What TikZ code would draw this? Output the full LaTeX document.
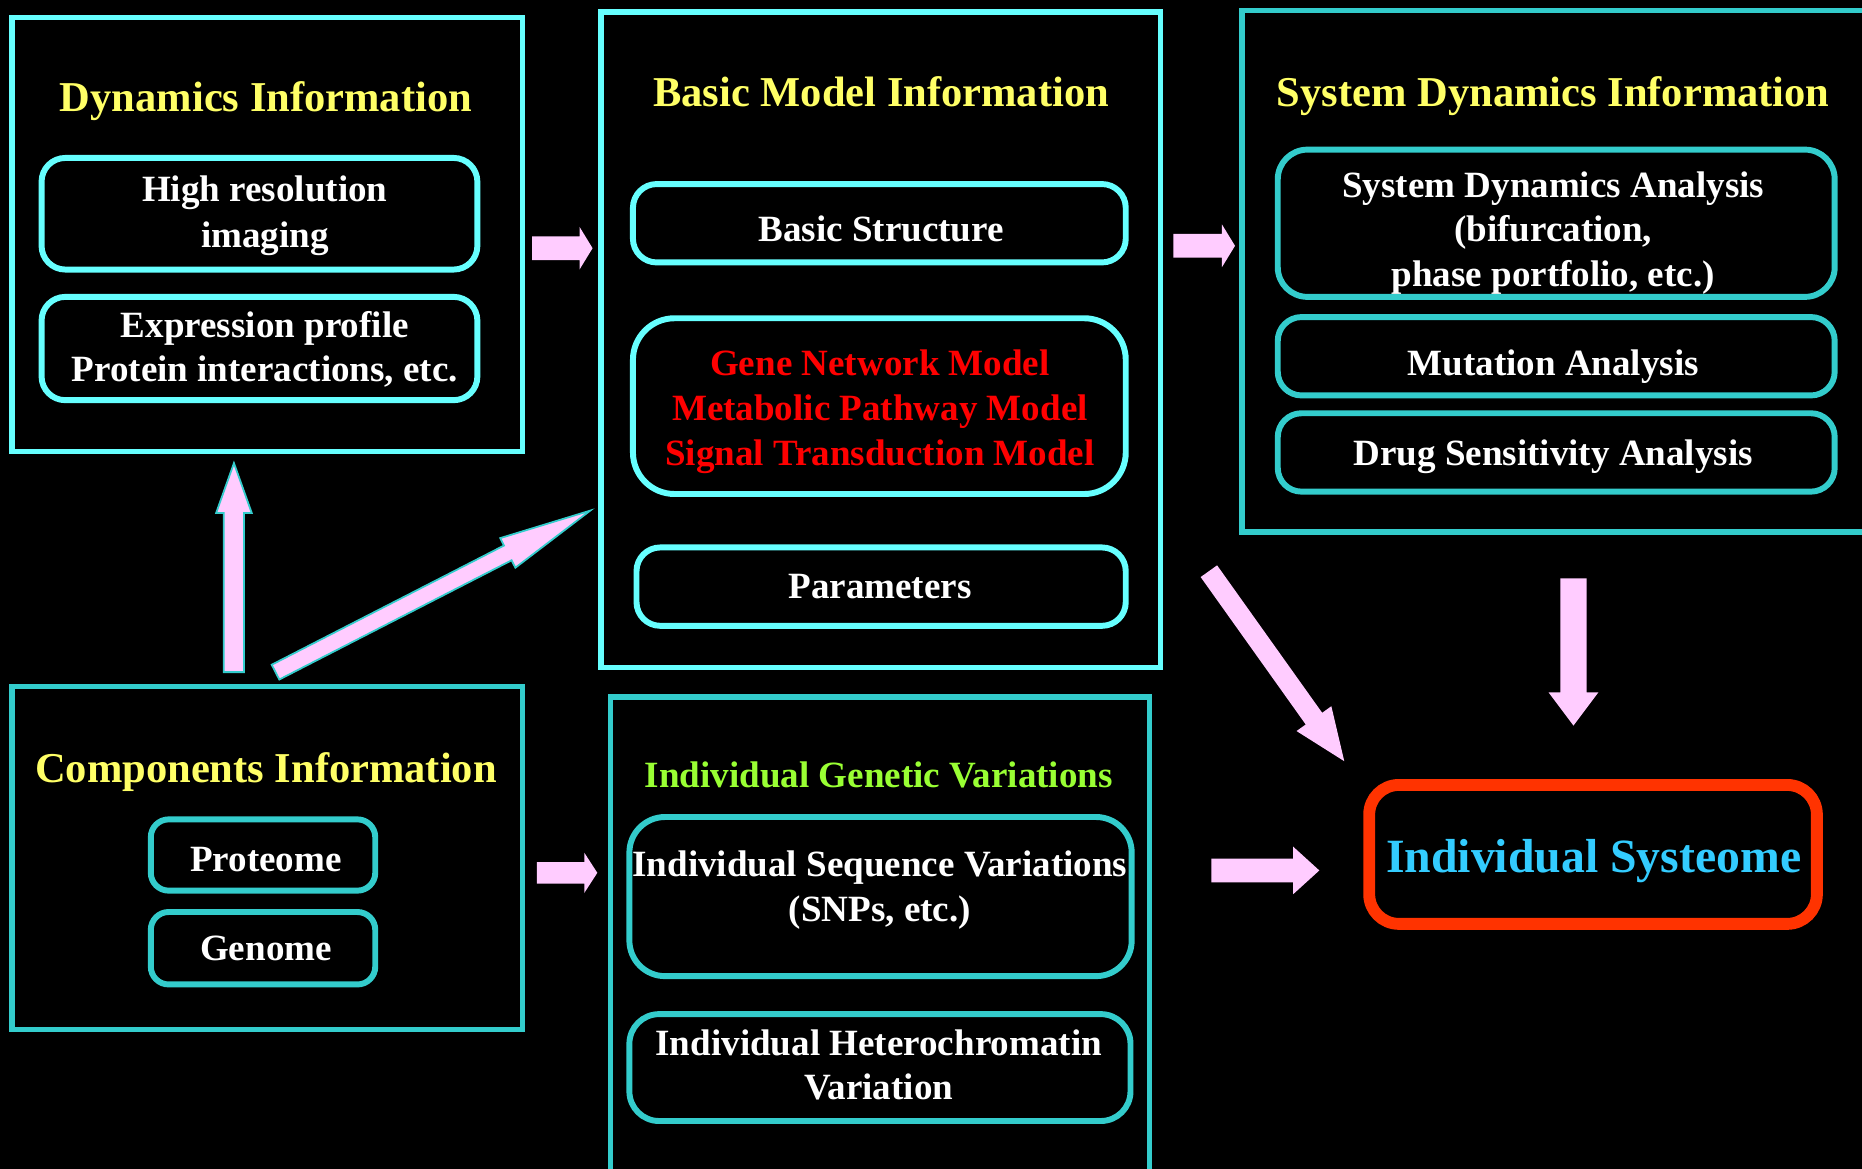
\documentclass[tikz,border=0pt]{standalone}
\usepackage{fontspec}
\setmainfont{Liberation Serif}
\usetikzlibrary{calc,fit}

\definecolor{cyanA}{HTML}{66FFFF}
\definecolor{cyanB}{HTML}{33CCCC}
\definecolor{titleyellow}{HTML}{FFFF66}
\definecolor{vargreen}{HTML}{99FF33}
\definecolor{arrowpink}{HTML}{FFCCFF}
\definecolor{sysred}{HTML}{FF3300}
\definecolor{sysblue}{HTML}{33CCFF}
\definecolor{modelred}{HTML}{FF0000}

% block arrow: [extra style]{from}{to}{shaft half width}{head half width}{head length}
\newcommand\blockarrow[6][]{%
  \coordinate (ba-h) at ($(#3)!#6!(#2)$);
  \fill[arrowpink,#1] ($(#2)!#4!90:(#3)$) -- ($(ba-h)!#4!90:(#3)$) -- ($(ba-h)!#5!90:(#3)$)
    -- (#3) -- ($(ba-h)!#5!-90:(#3)$) -- ($(ba-h)!#4!-90:(#3)$) -- ($(#2)!#4!-90:(#3)$) -- cycle;
}

\tikzset{
  outerA/.style={draw=cyanA, line width=4.5pt, rectangle, inner sep=0pt},
  outerB/.style={draw=cyanB, line width=4.5pt, rectangle, inner sep=0pt},
  innerA/.style={draw=cyanA, line width=5pt, rectangle, rounded corners=20pt, inner sep=0pt},
  innerB/.style={draw=cyanB, line width=5pt, rectangle, rounded corners=20pt, inner sep=0pt},
  title/.style={font=\fontsize{35.8}{43}\selectfont\bfseries, text=titleyellow, anchor=base, inner sep=0pt},
  body/.style={font=\fontsize{31.2}{37.5}\selectfont\bfseries, text=white, anchor=base, inner sep=0pt},
  outlined/.style={draw=cyanB, line width=1.5pt},
}

\begin{document}
\begin{tikzpicture}[x=1pt, y=-1pt]
\useasboundingbox (0,0) rectangle (1568,984.4);
\clip (0,0) rectangle (1568,984.4);
\fill[black] (0,0) rectangle (1568,984.4);

% ---- Dynamics Information ----
\node[outerA, fit={(10,15) (440,380)}] (dyn) {};
\node[title] (dynT) at (224,94) {Dynamics Information};
\node[innerA, fit={(35,133) (402,227)}] (hr) {};
\node[body] (hr1) at (223,170) {High resolution};
\node[body] (hr2) at (223,208) {imaging};
\node[innerA, fit={(35,250) (402,337)}] (ex) {};
\node[body] (ex1) at (223,284) {Expression profile};
\node[body] (ex2) at (223,321) {Protein interactions, etc.};

% ---- Basic Model Information ----
\node[outerA, fit={(506,10) (977,562)}] (bmi) {};
\node[title] (bmiT) at (742,90) {Basic Model Information};
\node[innerA, fit={(533,155) (948,221)}] (bs) {};
\node[body] (bs1) at (742,203) {Basic Structure};
\node[innerA, rounded corners=35pt, fit={(533,268) (948,416)}] (mod) {};
\node[body, text=modelred] (mod1) at (741,316) {Gene Network Model};
\node[body, text=modelred] (mod2) at (741,354) {Metabolic Pathway Model};
\node[body, text=modelred] (mod3) at (741,392) {Signal Transduction Model};
\node[innerA, fit={(536,461) (948,527)}] (par) {};
\node[body] (par1) at (741,504) {Parameters};

% ---- System Dynamics Information ----
\node[outerB, fit={(1046,9) (1590,448)}] (sdi) {};
\node[title] (sdiT) at (1308,90) {System Dynamics Information};
\node[innerB, rounded corners=25pt, fit={(1076,126) (1545,250)}] (sda) {};
\node[body] (sda1) at (1308,166) {System Dynamics Analysis};
\node[body] (sda2) at (1308,203) {(bifurcation,};
\node[body] (sda3) at (1308,241) {phase portfolio, etc.)};
\node[innerB, fit={(1076,267) (1545,333)}] (mut) {};
\node[body] (mut1) at (1308,316) {Mutation Analysis};
\node[innerB, fit={(1076,348) (1545,414)}] (drug) {};
\node[body] (drug1) at (1308,392) {Drug Sensitivity Analysis};

% ---- Components Information ----
\node[outerB, fit={(10,578) (440,867)}] (comp) {};
\node[title] (compT) at (224,659) {Components Information};
\node[innerB, rounded corners=15pt, fit={(127,690) (316,750)}] (prot) {};
\node[body] (prot1) at (224,734) {Proteome};
\node[innerB, rounded corners=15pt, fit={(127,768) (316,829)}] (gen) {};
\node[body] (gen1) at (224,809) {Genome};

% ---- Individual Genetic Variations ----
\node[outerB, fit={(514,587) (968,1010)}] (igv) {};
\node[body, text=vargreen] (igvT) at (740,663) {Individual Genetic Variations};
\node[innerB, rounded corners=30pt, fit={(530,688) (953,822)}] (snp) {};
\node[body] (snp1) at (741,738) {Individual Sequence Variations};
\node[body] (snp2) at (741,776) {(SNPs, etc.)};
\node[innerB, rounded corners=25pt, fit={(530,854) (952,944)}] (het) {};
\node[body] (het1) at (740,889) {Individual Heterochromatin};
\node[body] (het2) at (740,926) {Variation};

% ---- Individual Systeome ----
\node[draw=sysred, line width=10pt, rectangle, rounded corners=25pt, inner sep=0pt,
      fit={(1153,661) (1530,778)}] (sys) {};
\node[font=\fontsize{40.2}{48}\selectfont\bfseries, text=sysblue, anchor=base, inner sep=0pt]
      (sys1) at (1342,735) {Individual Systeome};

% ---- arrow end points ----
\coordinate (a1s) at (448,209);  \coordinate (a1e) at (499,209);
\coordinate (a2s) at (988,207);  \coordinate (a2e) at (1040,207);
\coordinate (a3s) at (452,735);  \coordinate (a3e) at (503,735);
\coordinate (a4s) at (1020,733); \coordinate (a4e) at (1111,733);
\coordinate (a5s) at (1325,487); \coordinate (a5e) at (1325,611);
\coordinate (a6s) at (1018,481); \coordinate (a6e) at (1132,641);
\coordinate (a7s) at (197,566);  \coordinate (a7e) at (197,390);
\coordinate (a8s) at (232,566);  \coordinate (a8e) at (497,430);

% ---- arrows ----
\blockarrow{a1s}{a1e}{10pt}{18pt}{11pt}
\blockarrow{a2s}{a2e}{10pt}{18pt}{11pt}
\blockarrow{a3s}{a3e}{9pt}{17pt}{11pt}
\blockarrow{a4s}{a4e}{10pt}{20pt}{22pt}
\blockarrow{a5s}{a5e}{11pt}{21pt}{28pt}
\blockarrow{a6s}{a6e}{8.5pt}{18pt}{44pt}
\blockarrow[outlined]{a7s}{a7e}{8.5pt}{15pt}{42pt}
\blockarrow[outlined]{a8s}{a8e}{7pt}{14pt}{78pt}
\end{tikzpicture}
\end{document}
